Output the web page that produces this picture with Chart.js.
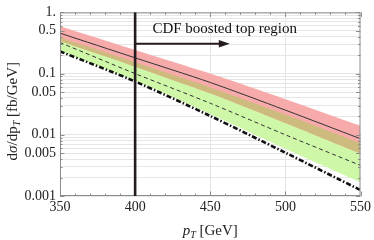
<!DOCTYPE html>
<html><head><meta charset="utf-8">
<script src="https://cdn.jsdelivr.net/npm/chart.js@4.4.0/dist/chart.umd.min.js"></script>
<style>html,body{margin:0;padding:0;background:#fff}canvas{display:block}</style>
</head><body>
<canvas id="c" width="374" height="240"></canvas>
<script>
// ---- data ----
const pT          = [350, 400, 450, 500, 550];
const redTop      = [0.595, 0.244, 0.100, 0.0381, 0.0140];
const redBottom   = [0.340, 0.130, 0.0476, 0.0156, 0.00494];
const greenTop    = [0.388, 0.153, 0.0595, 0.0214, 0.00724];
const greenBottom = [0.235, 0.0774, 0.0219, 0.00594, 0.00168];
const central     = [0.458, 0.181, 0.0716, 0.0253, 0.00862];
const dashed      = [0.322, 0.100, 0.0328, 0.0100, 0.00316];
const dashDot     = [0.231, 0.0743, 0.0203, 0.0051, 0.00125];
const yTickValues = [1, 0.5, 0.1, 0.05, 0.01, 0.005, 0.001];
const yTickLabels = ['1.', '0.5', '0.1', '0.05', '0.01', '0.005', '0.001'];
const xTickValues = [350, 400, 450, 500, 550];
const xTickLabels = ['350', '400', '450', '500', '550'];
const cutPT = 400;
const arrowEndPT = 463;
const arrowY = 0.308;
const regionLabel = 'CDF boosted top region';
const regionLabelPT = 411.5;
const regionLabelY = 0.56;

const SERIF = '"Liberation Serif", "DejaVu Serif", serif';
const pts = arr => pT.map((x, i) => ({x, y: arr[i]}));

function lineDs(arr, extra) {
  return Object.assign({
    data: pts(arr), pointRadius: 0, borderWidth: 0, borderColor: 'rgba(0,0,0,0)',
    fill: false, tension: 0.3
  }, extra);
}

const datasets = [
  lineDs(redTop,      {fill: 1, backgroundColor: '#f7aaaa', order: 3}),
  lineDs(redBottom,   {order: 3}),
  lineDs(greenTop,    {fill: 3, backgroundColor: '#cff7a8', order: 4}),
  lineDs(greenBottom, {order: 4}),
  lineDs(greenTop,    {fill: 1, backgroundColor: '#cdbb7e', order: 2}),
  lineDs(central,     {borderWidth: 1, borderColor: '#333', order: 0}),
  lineDs(dashed,      {borderWidth: 1, borderColor: '#333', borderDash: [4, 3], order: 0}),
  lineDs(dashDot,     {borderWidth: 2.6, borderColor: '#111', borderDash: [5, 2, 1.5, 2], order: 0})
];

const yAll = [];
for (let e = -3; e < 0; e++) for (let m = 1; m <= 9; m++) yAll.push(+(m * Math.pow(10, e)).toPrecision(3));
yAll.push(1);
function yLabel(v) {
  for (let i = 0; i < yTickValues.length; i++) if (Math.abs(v / yTickValues[i] - 1) < 1e-6) return yTickLabels[i];
  return '';
}

const overlay = {
  id: 'overlay',
  afterDraw(chart) {
    const ctx = chart.ctx, a = chart.chartArea;
    const xs = chart.scales.x, ys = chart.scales.y;
    ctx.save();
    // frame
    ctx.strokeStyle = '#8c8c8c'; ctx.lineWidth = 1;
    ctx.strokeRect(a.left + 0.5, a.top + 0.5, a.right - a.left - 1, a.bottom - a.top - 1);
    // x ticks (inside, bottom and top)
    for (let v = 350; v <= 550; v += 10) {
      const px = Math.round(xs.getPixelForValue(v)) + 0.5;
      const len = (v % 50 === 0) ? 4.5 : 2.5;
      ctx.beginPath();
      ctx.moveTo(px, a.bottom); ctx.lineTo(px, a.bottom - len);
      ctx.moveTo(px, a.top); ctx.lineTo(px, a.top + len);
      ctx.stroke();
    }
    // y ticks
    yAll.forEach(v => {
      const py = Math.round(ys.getPixelForValue(v)) + 0.5;
      const len = yLabel(v) ? 4.5 : 2.5;
      ctx.beginPath();
      ctx.moveTo(a.left, py); ctx.lineTo(a.left + len, py);
      ctx.moveTo(a.right, py); ctx.lineTo(a.right - len, py);
      ctx.stroke();
    });
    // vertical cut line
    const cx = xs.getPixelForValue(cutPT);
    ctx.strokeStyle = '#241c1e'; ctx.lineWidth = 2.6;
    ctx.beginPath(); ctx.moveTo(cx, a.top); ctx.lineTo(cx, a.bottom); ctx.stroke();
    // arrow
    const ay = ys.getPixelForValue(arrowY), ax2 = xs.getPixelForValue(arrowEndPT);
    ctx.lineWidth = 2;
    ctx.beginPath(); ctx.moveTo(cx, ay); ctx.lineTo(ax2 - 8, ay); ctx.stroke();
    ctx.fillStyle = '#241c1e';
    ctx.beginPath(); ctx.moveTo(ax2, ay); ctx.lineTo(ax2 - 11, ay - 3.8); ctx.lineTo(ax2 - 11, ay + 3.8); ctx.closePath(); ctx.fill();
    // region label
    ctx.fillStyle = '#111';
    ctx.font = '15px ' + SERIF; ctx.textBaseline = 'alphabetic'; ctx.textAlign = 'left';
    ctx.fillText(regionLabel, xs.getPixelForValue(regionLabelPT), ys.getPixelForValue(regionLabelY) + 5);

    function drawParts(parts, cxm, base) {
      let w = 0;
      parts.forEach(p => { ctx.font = p.f; p.w = ctx.measureText(p.t).width; w += p.w; });
      let x = cxm - w / 2;
      ctx.textAlign = 'left';
      parts.forEach(p => { ctx.font = p.f; ctx.fillText(p.t, x, base + p.dy); x += p.w; });
    }
    ctx.fillStyle = '#222';
    // x title: p_T [GeV]
    drawParts([
      {t: 'p', f: 'italic 15px ' + SERIF, dy: 0},
      {t: 'T', f: 'italic 10px ' + SERIF, dy: 3},
      {t: ' [GeV]', f: '15px ' + SERIF, dy: 0}
    ], (a.left + a.right) / 2, 235);
    // y title
    ctx.save();
    ctx.translate(17, (a.top + a.bottom) / 2 + 7);
    ctx.rotate(-Math.PI / 2);
    drawParts([
      {t: 'd', f: '15px ' + SERIF, dy: 0},
      {t: 'σ', f: 'italic 15px ' + SERIF, dy: 0},
      {t: '/dp', f: '15px ' + SERIF, dy: 0},
      {t: 'T', f: 'italic 10px ' + SERIF, dy: 3},
      {t: ' [fb/GeV]', f: '15px ' + SERIF, dy: 0}
    ], 0, 0);
    ctx.restore();
    ctx.restore();
  }
};

new Chart(document.getElementById('c'), {
  type: 'line',
  data: {datasets},
  options: {
    responsive: false, animation: false, devicePixelRatio: 1,
    layout: {padding: {top: 10, right: 12, left: 0, bottom: 0}},
    plugins: {legend: {display: false}, tooltip: {enabled: false}},
    scales: {
      x: {
        type: 'linear', min: 350, max: 550,
        afterBuildTicks: s => { s.ticks = xTickValues.map(v => ({value: v})); },
        afterFit: s => { s.height = 44; },
        ticks: {font: {family: SERIF, size: 14}, color: '#222', padding: 3, maxRotation: 0,
          callback: v => { const i = xTickValues.indexOf(v); return i >= 0 ? xTickLabels[i] : ''; }},
        grid: {drawTicks: false, color: c => (c.tick && (c.tick.value === 450 || c.tick.value === 500)) ? '#e4e4e4' : 'rgba(0,0,0,0)'},
        border: {display: false}
      },
      y: {
        type: 'logarithmic', min: 0.001, max: 1,
        afterBuildTicks: s => { s.ticks = yAll.map(v => ({value: v})); },
        afterFit: s => { s.width = 60; },
        ticks: {font: {family: SERIF, size: 14}, color: '#222', padding: 4, autoSkip: false,
          callback: v => yLabel(v)},
        grid: {drawTicks: false, color: '#e6e6e6'},
        border: {display: false}
      }
    }
  },
  plugins: [overlay]
});
</script>
</body></html>
